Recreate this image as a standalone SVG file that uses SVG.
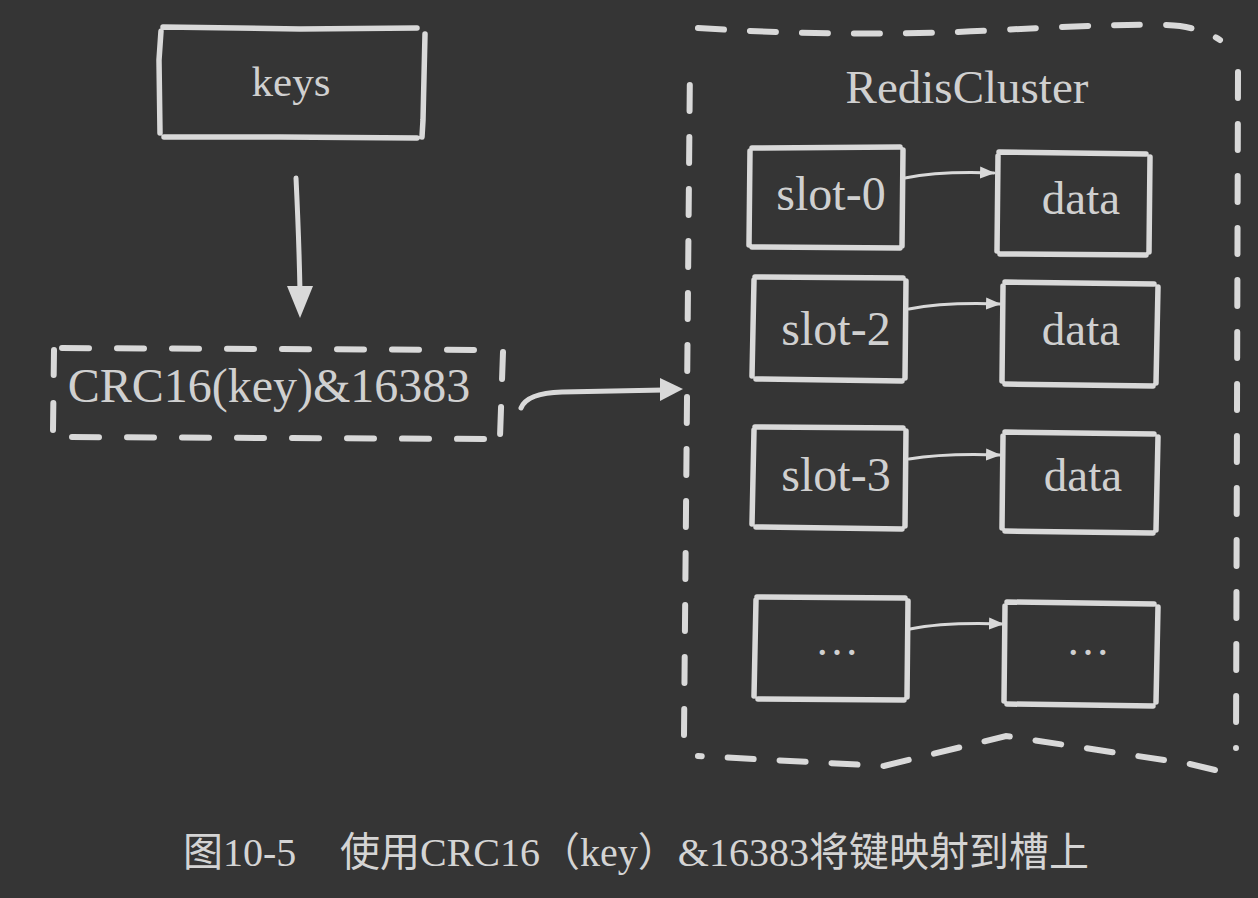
<svg xmlns="http://www.w3.org/2000/svg" width="1258" height="898" viewBox="0 0 1258 898">
<defs>
<marker id="ah" markerUnits="userSpaceOnUse" markerWidth="16" markerHeight="14" refX="14" refY="7" orient="auto">
<path d="M0,1 L15,7 L0,13 Z" fill="#d9d9d9"/>
</marker>
<style>
.bg{fill:#353535}
.box{fill:none;stroke:#d9d9d9;stroke-width:5.5;stroke-linecap:round;stroke-linejoin:round}
.dash{fill:none;stroke:#d9d9d9;stroke-width:6;stroke-linecap:round;stroke-dasharray:26 26}
.conn{fill:none;stroke:#d9d9d9;stroke-width:3;stroke-linecap:round}
.big{fill:none;stroke:#d9d9d9;stroke-width:5;stroke-linecap:round}
.head{fill:#d9d9d9}
.lbl{fill:#d0d0d0;font-family:'Liberation Serif','Times New Roman',serif;font-size:47px;text-anchor:middle}
.slot{font-size:48px}
.dots{font-size:44px}
.cap{fill:#d4d4d4;font-family:'Liberation Serif','Noto Sans CJK SC',serif;font-size:40px}
</style>
</defs>
<rect class="bg" x="0" y="0" width="1258" height="898"/>

<g id="keys">
<path class="box" d="M163 27 L300 29 L417 28 M425 34 L423 120 L422 137 M417 138 L280 137 L164 137 M160 133 L159 60 L161 31"/>
<text class="lbl" style="font-size:43px" x="291" y="96">keys</text>
</g>

<g id="crc">
<path class="dash" style="stroke-dasharray:27 28" d="M62 348 L488 350 M503 352 L500 437 M484 439 L62 437 M53 430 L54 350"/>
<text class="lbl" style="font-size:48px" x="269" y="402">CRC16(key)&amp;16383</text>
</g>

<g id="cluster">
<path class="dash" d="M698 28 Q850 38 1000 30 T1180 26 Q1205 30 1220 40 M1238 72 L1236 748 M1215 770 L1190 764 L1006 736 L884 766 L698 756 M684 735 L690 62"/>
<text class="lbl" x="967" y="103">RedisCluster</text>
</g>

<g id="slot0">
<path class="box" d="M752 148 L900 147 M903 150 L902 246 M900 248 L752 247 M749 245 L750 151"/>
<text class="lbl slot" x="831" y="210">slot-0</text>
</g>
<g id="data0">
<path class="box" d="M999 152 L1146 154 M1150 157 L1149 252 M1146 255 L1000 254 M997 251 L998 156"/>
<text class="lbl" x="1081" y="214">data</text>
</g>

<g id="slot2">
<path class="box" d="M755 277 L903 278 M906 281 L905 378 M902 381 L756 379 M752 376 L754 280"/>
<text class="lbl slot" x="836" y="345">slot-2</text>
</g>
<g id="data2">
<path class="box" d="M1005 282 L1154 284 M1158 287 L1156 383 M1153 386 L1005 384 M1002 381 L1003 286"/>
<text class="lbl" x="1081" y="345">data</text>
</g>

<g id="slot3">
<path class="box" d="M755 427 L903 428 M906 431 L905 526 M902 529 L756 527 M752 524 L754 430"/>
<text class="lbl slot" x="836" y="491">slot-3</text>
</g>
<g id="data3">
<path class="box" d="M1005 432 L1154 434 M1158 437 L1156 530 M1153 533 L1005 531 M1002 528 L1003 436"/>
<text class="lbl" x="1083" y="491">data</text>
</g>

<g id="slotN">
<path class="box" d="M757 597 L905 598 M908 601 L907 697 M904 700 L758 699 M754 696 L756 600"/>
<text class="lbl dots" x="837" y="655">…</text>
</g>
<g id="dataN">
<path class="box" d="M1007 602 L1154 604 M1158 607 L1156 702 M1153 706 L1007 704 M1004 701 L1005 606"/>
<text class="lbl dots" x="1088" y="655">…</text>
</g>

<g id="connectors">
<path class="big" d="M296 178 Q299 240 300 292"/>
<polygon class="head" points="287,286 313,286 300,318"/>
<path class="big" d="M521 408 Q527 393 562 392 L664 390"/>
<polygon class="head" points="660,378 683,389 660,401"/>
<path class="conn" marker-end="url(#ah)" d="M905 178 Q940 171 994 173"/>
<path class="conn" marker-end="url(#ah)" d="M909 309 Q945 302 1000 304"/>
<path class="conn" marker-end="url(#ah)" d="M909 459 Q945 453 1000 455"/>
<path class="conn" marker-end="url(#ah)" d="M910 629 Q945 622 1003 624"/>
</g>

<g id="caption">
<text class="cap" x="183" y="866">图10-5</text>
<text class="cap" x="340" y="866">使用CRC16（key）&amp;16383将键映射到槽上</text>
</g>
</svg>
